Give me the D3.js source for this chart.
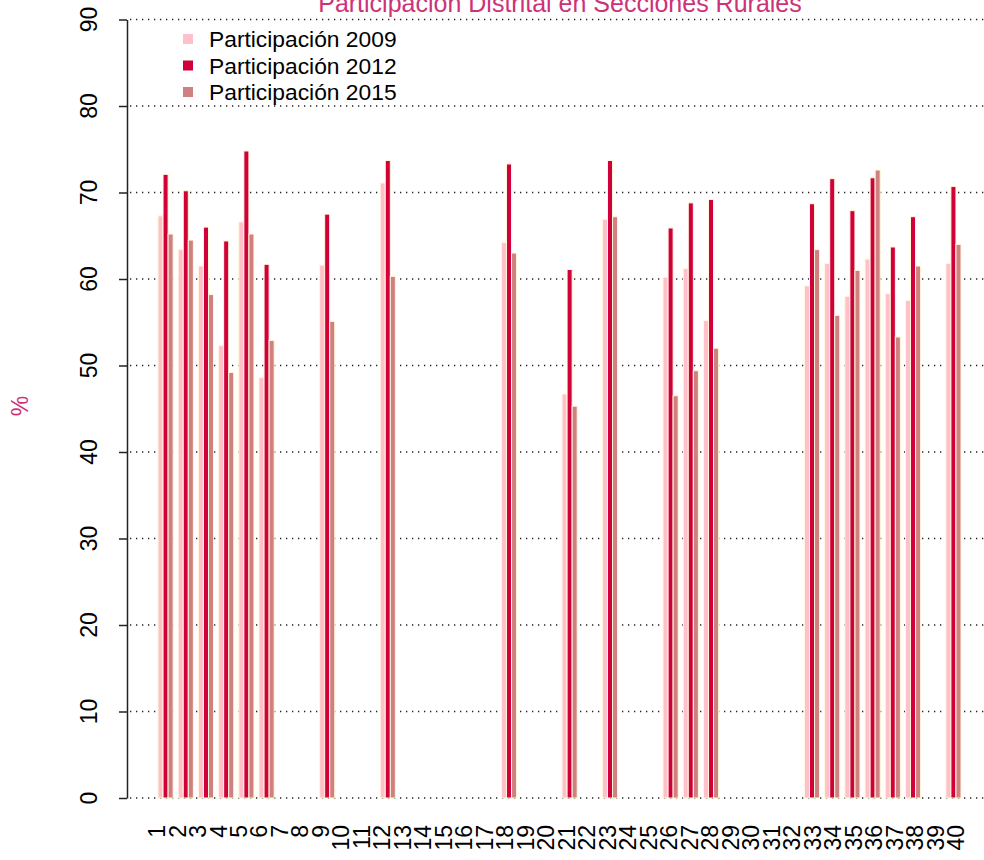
<!DOCTYPE html>
<html>
<head>
<meta charset="utf-8">
<title>Participación Distrital en Secciones Rurales</title>
<script src="https://cdn.jsdelivr.net/npm/d3@7"></script>
<style>
    body { margin: 0; background: #fff; }
    svg { display: block; font-family: "Liberation Sans", Arial, Helvetica, sans-serif; }
</style>
</head>
<body>
<div id="chart"></div>
<script>
// district numbers (x tick labels)
const districts = ['1','2','3','4','5','6','7','8','9','10','11','12','13','14','15','16','17','18','19','20',
    '21','22','23','24','25','26','27','28','29','30','31','32','33','34','35','36','37','38','39','40'];

const seriesNames = ['Participación 2009', 'Participación 2012', 'Participación 2015'];

const part2009 = [67.3, 63.4, 61.5, 52.3, 66.6, 48.6, 0, 0, 61.6, 0, 0, 71.1, 0, 0, 0, 0, 0, 64.2, 0, 0,
    46.7, 0, 66.9, 0, 0, 60.2, 61.2, 55.2, 0, 0, 0, 0, 59.2, 61.8, 58.0, 62.3, 58.3, 57.5, 0, 61.8];
const part2012 = [72.1, 70.2, 66.0, 64.4, 74.8, 61.7, 0, 0, 67.5, 0, 0, 73.7, 0, 0, 0, 0, 0, 73.3, 0, 0,
    61.1, 0, 73.7, 0, 0, 65.9, 68.8, 69.2, 0, 0, 0, 0, 68.7, 71.6, 67.9, 71.7, 63.7, 67.2, 0, 70.7];
const part2015 = [65.2, 64.5, 58.2, 49.2, 65.2, 52.9, 0, 0, 55.1, 0, 0, 60.3, 0, 0, 0, 0, 0, 63.0, 0, 0,
    45.3, 0, 67.2, 0, 0, 46.5, 49.4, 52.0, 0, 0, 0, 0, 63.4, 55.8, 61.0, 72.6, 53.3, 61.5, 0, 64.0];

const yTicks = [0, 10, 20, 30, 40, 50, 60, 70, 80, 90];

document.addEventListener('DOMContentLoaded', () => {
    const chartWidth = 984;
    const chartHeight = 860;
    const colors = ['#FFC0CB', '#D0003A', '#D08080'];
    const titleColor = '#CD3278';

    const svg = d3.select('#chart')
        .append('svg')
        .attr('width', chartWidth)
        .attr('height', chartHeight);

    const y = d3.scaleLinear()
        .domain([0, 90])
        .range([798, 19.5]);

    // groups of three bars, one gap bar wide between groups
    const x = d3.scaleBand()
        .domain(districts)
        .range([158, 961])
        .paddingInner(0.25)
        .paddingOuter(0);

    const xInner = d3.scaleBand()
        .domain(seriesNames)
        .range([0, x.bandwidth()]);

    // label positions
    const xLabel = d3.scalePoint()
        .domain(districts)
        .range([157, 956]);

    const rows = districts.map((d, i) => ({
        district: d,
        values: [part2009[i], part2012[i], part2015[i]]
    }));

    // dotted grid
    svg.append('g')
        .selectAll('line')
        .data(yTicks)
        .enter().append('line')
        .attr('x1', 130)
        .attr('x2', chartWidth)
        .attr('y1', d => y(d))
        .attr('y2', d => y(d))
        .attr('stroke', '#222')
        .attr('stroke-width', 1.3)
        .attr('stroke-dasharray', '1.3,4.7');

    // bars
    const groups = svg.append('g')
        .selectAll('g')
        .data(rows)
        .enter().append('g')
        .attr('transform', d => `translate(${x(d.district)},0)`);

    groups.selectAll('rect')
        .data(d => d.values.map((v, i) => ({ name: seriesNames[i], value: v, idx: i })))
        .enter().append('rect')
        .attr('x', d => xInner(d.name))
        .attr('width', xInner.bandwidth())
        .attr('y', d => y(d.value))
        .attr('height', d => y(0) - y(d.value))
        .attr('fill', d => colors[d.idx])
        .attr('stroke', '#FFF8DC')
        .attr('stroke-width', 1);

    // y axis
    const yAxis = svg.append('g')
        .attr('transform', 'translate(127,0)')
        .call(d3.axisLeft(y).tickValues(yTicks).tickSize(8).tickSizeOuter(0));

    yAxis.select('.domain')
        .attr('stroke', '#222')
        .attr('stroke-width', 1.5);
    yAxis.selectAll('.tick line')
        .attr('stroke', '#222')
        .attr('stroke-width', 1.5);
    yAxis.selectAll('.tick text').remove();

    svg.append('g')
        .selectAll('text')
        .data(yTicks)
        .enter().append('text')
        .attr('transform', d => `translate(97,${y(d)}) rotate(-90)`)
        .attr('text-anchor', 'middle')
        .style('font-size', '23px')
        .attr('fill', '#000')
        .text(d => d);

    // x labels
    svg.append('g')
        .selectAll('text')
        .data(districts)
        .enter().append('text')
        .attr('transform', d => `translate(${xLabel(d)},825) rotate(-90)`)
        .attr('text-anchor', 'end')
        .attr('dy', '0.35em')
        .style('font-size', '23px')
        .attr('fill', '#000')
        .text(d => d);

    // title (cut by the top edge, as in the original)
    svg.append('text')
        .attr('x', 560)
        .attr('y', 12)
        .attr('text-anchor', 'middle')
        .style('font-size', '25px')
        .attr('fill', titleColor)
        .text('Participación Distrital en Secciones Rurales');

    // y label
    svg.append('text')
        .attr('transform', 'translate(28,406) rotate(-90)')
        .attr('text-anchor', 'middle')
        .style('font-size', '23px')
        .attr('fill', titleColor)
        .text('%');

    // legend
    const legend = svg.append('g')
        .selectAll('g')
        .data(seriesNames)
        .enter().append('g')
        .attr('transform', (d, i) => `translate(183,${39 + i * 26.5})`);

    legend.append('rect')
        .attr('x', 0)
        .attr('y', -5)
        .attr('width', 10)
        .attr('height', 10)
        .attr('fill', (d, i) => colors[i]);

    legend.append('text')
        .attr('x', 26)
        .attr('y', 8)
        .style('font-size', '22.8px')
        .attr('fill', '#000')
        .text(d => d);
});
</script>
</body>
</html>
